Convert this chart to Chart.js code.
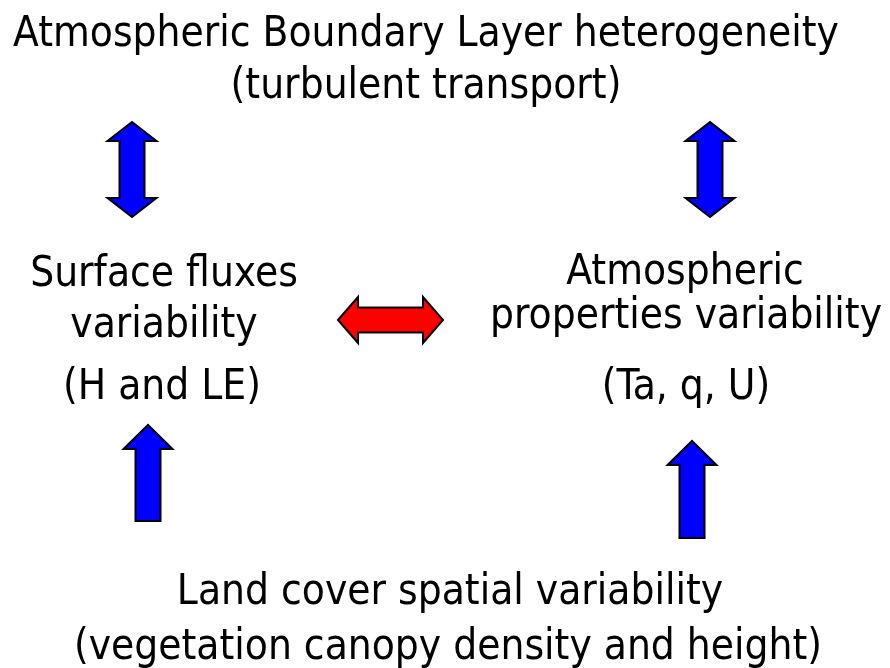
<!DOCTYPE html>
<html>
<head>
<meta charset="utf-8">
<script src="https://cdn.jsdelivr.net/npm/chart.js@4"></script>
<style>
  html, body { margin: 0; padding: 0; background: #fff; }
  #wrap { width: 890px; height: 668px; }
</style>
</head>
<body>
<div id="wrap"><canvas id="diagram"></canvas></div>
<script>
// text blocks: label, centre x, baseline y (diagram units, y down)
const labels = [
  'Atmospheric Boundary Layer heterogeneity',
  '(turbulent transport)',
  'Surface fluxes',
  'variability',
  '(H and LE)',
  'Atmospheric',
  'properties variability',
  '(Ta, q, U)',
  'Land cover spatial variability',
  '(vegetation canopy density and height)'
];
const labelX = [426, 426, 164, 164, 162, 685, 686, 686, 450, 448];
const labelY = [46, 98, 286, 337, 399, 284, 328, 399, 604, 659];

// arrows: from -> to, and whether both ends get a head
const arrowFromX = [132, 710, 148, 692, 338];
const arrowFromY = [217, 217, 521, 538, 320];
const arrowToX   = [132, 710, 148, 692, 443];
const arrowToY   = [122, 122, 425, 441, 320];
const arrowBoth  = [true, true, false, false, true];
const arrowColor = ['#0000ff', '#0000ff', '#0000ff', '#0000ff', '#ff0000'];

const arrowPoints = arrowFromX.map((x, i) => ({ x: x, y: arrowFromY[i] }))
  .concat(arrowToX.map((x, i) => ({ x: x, y: arrowToY[i] })));

const diagramPlugin = {
  id: 'diagram',
  afterDatasetsDraw(chart) {
    const ctx = chart.ctx;
    const xs = chart.scales.x, ys = chart.scales.y;
    const px = v => xs.getPixelForValue(v);
    const py = v => ys.getPixelForValue(v);

    // arrows
    arrowFromX.forEach((_, i) => {
      const x1 = px(arrowFromX[i]), y1 = py(arrowFromY[i]);
      const x2 = px(arrowToX[i]), y2 = py(arrowToY[i]);
      const len = Math.hypot(x2 - x1, y2 - y1);
      const shaft = 12.5;
      const headW = i === 4 ? 23 : 24.5;
      const headL = i === 4 ? 20 : (arrowBoth[i] ? 19 : 24);
      ctx.save();
      ctx.translate(x1, y1);
      ctx.rotate(Math.atan2(y2 - y1, x2 - x1));
      ctx.beginPath();
      if (arrowBoth[i]) {
        ctx.moveTo(0, 0);
        ctx.lineTo(headL, -headW);
        ctx.lineTo(headL, -shaft);
        ctx.lineTo(len - headL, -shaft);
        ctx.lineTo(len - headL, -headW);
        ctx.lineTo(len, 0);
        ctx.lineTo(len - headL, headW);
        ctx.lineTo(len - headL, shaft);
        ctx.lineTo(headL, shaft);
        ctx.lineTo(headL, headW);
      } else {
        ctx.moveTo(0, -shaft);
        ctx.lineTo(len - headL, -shaft);
        ctx.lineTo(len - headL, -headW);
        ctx.lineTo(len, 0);
        ctx.lineTo(len - headL, headW);
        ctx.lineTo(len - headL, shaft);
        ctx.lineTo(0, shaft);
      }
      ctx.closePath();
      ctx.fillStyle = arrowColor[i];
      ctx.fill();
      ctx.lineWidth = 2;
      ctx.lineJoin = 'miter';
      ctx.strokeStyle = '#000';
      ctx.stroke();
      ctx.restore();
    });

    // text
    ctx.save();
    ctx.fillStyle = '#000';
    ctx.textAlign = 'center';
    ctx.textBaseline = 'alphabetic';
    ctx.font = '42px "DejaVu Sans Condensed", "Liberation Sans Narrow", sans-serif';
    labels.forEach((t, i) => ctx.fillText(t, px(labelX[i]), py(labelY[i])));
    ctx.restore();
  }
};

new Chart(document.getElementById('diagram'), {
  type: 'scatter',
  data: {
    datasets: [{
      data: arrowPoints,
      pointRadius: 0,
      showLine: false
    }]
  },
  options: {
    responsive: true,
    maintainAspectRatio: false,
    animation: false,
    layout: { padding: 0 },
    scales: {
      x: { type: 'linear', min: 0, max: 890, display: false },
      y: { type: 'linear', min: 0, max: 668, reverse: true, display: false }
    },
    plugins: {
      legend: { display: false },
      tooltip: { enabled: false }
    }
  },
  plugins: [diagramPlugin]
});
</script>
</body>
</html>
